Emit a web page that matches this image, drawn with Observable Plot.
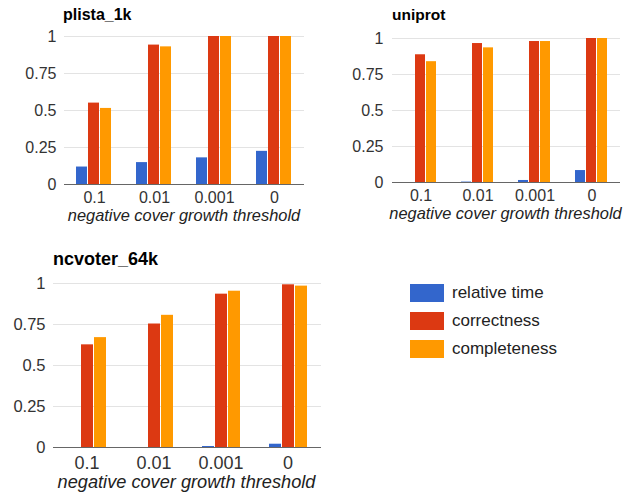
<!DOCTYPE html>
<html>
<head>
<meta charset="utf-8">
<script src="https://cdn.jsdelivr.net/npm/d3@7"></script>
<script src="https://cdn.jsdelivr.net/npm/@observablehq/plot@0.6"></script>
<style>
  html, body { margin: 0; padding: 0; background: #fff; }
  #root { position: relative; width: 629px; height: 495px; overflow: hidden; font-family: Arial, "Liberation Sans", sans-serif; }
  .panel { position: absolute; }
  .big [aria-label^="fx-axis"] text { font-size: 18px; }
  .title { position: absolute; font-weight: bold; color: #000; white-space: nowrap; line-height: 1; }
  .axtitle { position: absolute; font-style: italic; color: #222; white-space: nowrap; line-height: 1; text-align: center; }
  .legend { position: absolute; left: 410px; top: 284px; }
  .lrow { display: flex; align-items: center; height: 28px; }
  .sw { width: 34px; height: 18px; margin-right: 8px; }
  .ltxt { font-size: 17px; color: #222; }
</style>
</head>
<body>
<div id="root"></div>
<script>
// ---- data ----
const thresholds = ["0.1", "0.01", "0.001", "0"];
const series = ["relative time", "correctness", "completeness"];
const colors = ["#3366cc", "#dc3912", "#ff9900"];
const yTicks = [0, 0.25, 0.5, 0.75, 1];
const axisTitle = "negative cover growth threshold";

const plistaTime = [0.118, 0.148, 0.18, 0.224];
const plistaCorrectness = [0.55, 0.942, 1, 1];
const plistaCompleteness = [0.514, 0.93, 1, 1];

const uniprotTime = [0, 0.003, 0.014, 0.083];
const uniprotCorrectness = [0.887, 0.965, 0.979, 1];
const uniprotCompleteness = [0.839, 0.935, 0.979, 1];

const ncvoterTime = [0, 0, 0.006, 0.02];
const ncvoterCorrectness = [0.626, 0.753, 0.935, 0.992];
const ncvoterCompleteness = [0.67, 0.806, 0.953, 0.984];

function table(time, corr, comp) {
  const rows = [];
  thresholds.forEach((t, i) => {
    rows.push({threshold: t, series: series[0], value: time[i]});
    rows.push({threshold: t, series: series[1], value: corr[i]});
    rows.push({threshold: t, series: series[2], value: comp[i]});
  });
  return rows;
}

const root = document.getElementById("root");

function panel(cfg) {
  const data = table(...cfg.values);
  const chart = Plot.plot({
    width: cfg.width,
    height: cfg.height,
    marginLeft: cfg.ml,
    marginRight: cfg.mr,
    marginTop: cfg.mt,
    marginBottom: cfg.mb,
    style: {fontSize: cfg.tickFont + "px", fontFamily: "Arial, 'Liberation Sans', sans-serif", color: "#333", background: "transparent"},
    facet: {data: data, x: "threshold"},
    fx: {domain: thresholds, padding: 0, axis: "bottom", label: null, tickSize: 0, tickPadding: cfg.fxPad},
    x: {domain: series, axis: null, paddingInner: 0.08, paddingOuter: 1},
    y: {domain: [0, 1], ticks: yTicks, tickFormat: d => String(d), tickSize: 0, tickPadding: cfg.yPad, label: null},
    color: {domain: series, range: colors},
    marks: [
      Plot.ruleY(yTicks, {stroke: "#e3e3e3"}),
      Plot.barY(data, {x: "series", y: "value", fill: "series"}),
      Plot.ruleY([0], {stroke: "#666"})
    ]
  });
  const wrap = document.createElement("div");
  wrap.className = "panel" + (cfg.big ? " big" : "");
  wrap.style.left = cfg.left + "px";
  wrap.style.top = cfg.top + "px";
  wrap.appendChild(chart);
  root.appendChild(wrap);

  const t = document.createElement("div");
  t.className = "title";
  t.textContent = cfg.title;
  t.style.fontSize = cfg.titleFont + "px";
  t.style.left = cfg.titleX + "px";
  t.style.top = (cfg.titleBase - 0.85 * cfg.titleFont) + "px";
  root.appendChild(t);

  const a = document.createElement("div");
  a.className = "axtitle";
  a.textContent = axisTitle;
  a.style.fontSize = cfg.axFont + "px";
  const fx0 = cfg.left + cfg.ml, fx1 = cfg.left + cfg.width - cfg.mr;
  a.style.left = (fx0 - 40) + "px";
  a.style.width = (fx1 - fx0 + 80) + "px";
  a.style.top = (cfg.axBase - 0.85 * cfg.axFont) + "px";
  root.appendChild(a);
}

panel({title: "plista_1k", values: [plistaTime, plistaCorrectness, plistaCompleteness],
  left: 0, top: 0, width: 315, height: 240, ml: 63, mr: 10, mt: 36, mb: 56,
  tickFont: 16, fxPad: 7, yPad: 8, titleFont: 16, titleX: 63, titleBase: 21, axFont: 16.4, axBase: 221});
panel({title: "uniprot", values: [uniprotTime, uniprotCorrectness, uniprotCompleteness],
  left: 320, top: 0, width: 309, height: 240, ml: 71, mr: 9, mt: 38, mb: 58,
  tickFont: 16, fxPad: 7, yPad: 9, titleFont: 15.5, titleX: 392, titleBase: 20, axFont: 16.4, axBase: 219});
panel({title: "ncvoter_64k", values: [ncvoterTime, ncvoterCorrectness, ncvoterCompleteness], big: true,
  left: 0, top: 240, width: 340, height: 255, ml: 52, mr: 19, mt: 43, mb: 48,
  tickFont: 16.5, fxPad: 9, yPad: 8, titleFont: 18, titleX: 53, titleBase: 265, axFont: 18.2, axBase: 488});

// legend
const lg = document.createElement("div");
lg.className = "legend";
series.forEach((s, i) => {
  const r = document.createElement("div");
  r.className = "lrow";
  const sw = document.createElement("div");
  sw.className = "sw";
  sw.style.background = colors[i];
  const tx = document.createElement("span");
  tx.className = "ltxt";
  tx.textContent = s;
  r.appendChild(sw); r.appendChild(tx);
  lg.appendChild(r);
});
lg.style.top = (293 - 14) + "px";
root.appendChild(lg);
</script>
</body>
</html>
